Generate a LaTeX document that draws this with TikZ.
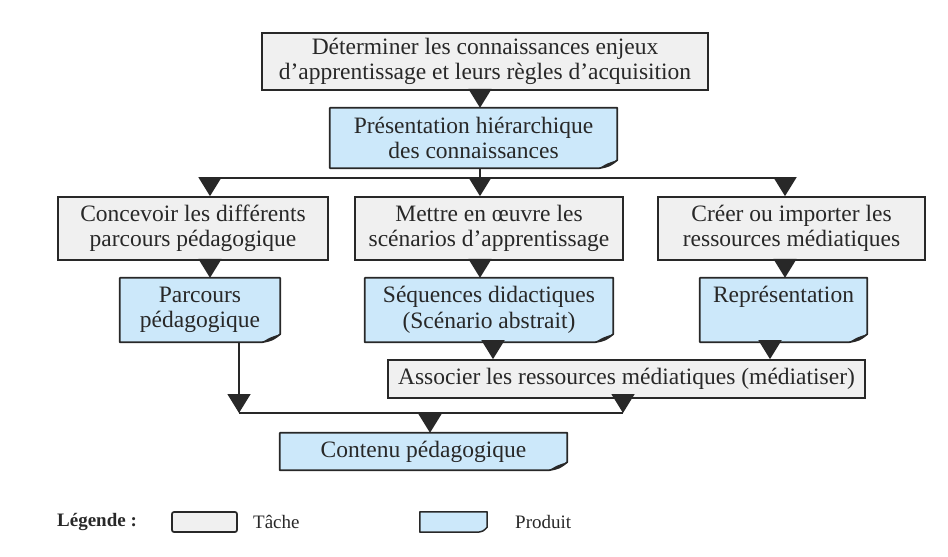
\documentclass[tikz,border=0pt]{standalone}
\usepackage{fontspec}
\setmainfont{Liberation Serif}
\usetikzlibrary{arrows.meta,backgrounds}
\definecolor{taskfill}{RGB}{240,240,240}
\definecolor{prodfill}{RGB}{204,232,250}
\definecolor{ink}{RGB}{40,40,40}
\tikzset{
  txt/.style={font=\fontsize{23.5}{25.5}\selectfont, text=ink, align=center, inner sep=0pt},
  task/.style={txt, draw=ink, fill=taskfill, line width=1.7pt},
  prod/.style={txt},
  legtxt/.style={font=\fontsize{19}{22}\selectfont, text=ink, anchor=west, inner sep=0pt},
  conn/.style={line width=1.7pt, draw=ink},
  arr/.style={conn, -{Triangle[width=23pt,length=19pt]}},
}
\newcommand\prodshape[1]{%
  \filldraw[fill=prodfill, draw=ink, line width=1.7pt, line join=round]
    (#1.north west) -- (#1.north east) -- ([yshift=8pt]#1.south east)
    .. controls ([xshift=-8pt,yshift=2pt]#1.south east) .. ([xshift=-18pt]#1.south east)
    -- (#1.south west) -- cycle;
  \fill[ink] ([yshift=8pt]#1.south east)
    .. controls ([xshift=-8pt,yshift=2pt]#1.south east) .. ([xshift=-18pt]#1.south east)
    .. controls ([xshift=-10pt,yshift=5pt]#1.south east) .. cycle;
}
\begin{document}
\begin{tikzpicture}[x=1pt,y=-1pt]
\useasboundingbox (0,0) rectangle (948,557);
% tasks and products
\node[task, minimum width=446pt, minimum height=57pt] (t1) at (485,61.5)
  {Déterminer les connaissances enjeux\\d’apprentissage et leurs règles d’acquisition};
\node[prod, minimum width=287pt, minimum height=60pt] (p1) at (473.5,138)
  {Présentation hiérarchique\\des connaissances};
\node[task, minimum width=270pt, minimum height=63pt] (t2a) at (193,228.5)
  {Concevoir les différents\\parcours pédagogique};
\node[task, minimum width=268pt, minimum height=63pt] (t2b) at (489,228.5)
  {Mettre en œuvre les\\scénarios d’apprentissage};
\node[task, minimum width=267pt, minimum height=63pt] (t2c) at (791.5,228.5)
  {Créer ou importer les\\ressources médiatiques};
\node[prod, minimum width=160pt, minimum height=64pt] (p2a) at (200,310)
  {Parcours\\pédagogique};
\node[prod, minimum width=248pt, minimum height=64pt] (p2b) at (489,310)
  {Séquences didactiques\\(Scénario abstrait)};
\node[prod, minimum width=167pt, minimum height=64pt] (p2c) at (783.5,310)
  {Représentation\\\phantom{p}};
\node[task, minimum width=477pt, minimum height=38pt] (t3) at (626.5,379)
  {Associer les ressources médiatiques (médiatiser)};
\node[prod, minimum width=287pt, minimum height=37pt] (p3) at (423.5,451.5)
  {Contenu pédagogique};
% legend
\node[legtxt, font=\fontsize{19}{22}\selectfont\bfseries] (lg) at (57,522) {Légende :};
\node[task, minimum width=65pt, minimum height=20pt, rounded corners=2pt] (lt) at (204.5,522) {};
\node[legtxt] (ltt) at (253,522) {Tâche};
\node[prod, minimum width=67pt, minimum height=20pt] (lp) at (453.5,522) {};
\node[legtxt] (lpt) at (515,522) {Produit};
\begin{pgfonlayer}{background}
  \prodshape{p1}\prodshape{p2a}\prodshape{p2b}\prodshape{p2c}\prodshape{p3}
  \filldraw[fill=prodfill, draw=ink, line width=1.5pt, line join=round]
    (lp.north west) -- (lp.north east) -- ([yshift=5pt]lp.south east)
    .. controls ([xshift=-4pt,yshift=1pt]lp.south east) .. ([xshift=-9pt]lp.south east)
    -- (lp.south west) -- cycle;
\end{pgfonlayer}
% column coordinates
\coordinate (cL) at (210,0);
\coordinate (cM) at (480,0);
\coordinate (cR) at (785,0);
\coordinate (cS) at (493,0);
\coordinate (cT) at (770,0);
\coordinate (cP) at (239,0);
\coordinate (cA) at (623,0);
\coordinate (cC) at (430,0);
\coordinate (bus1) at (0,178);
\coordinate (bus2) at (0,413);
% connectors
\draw[arr] (t1.south -| cM) -- (p1.north -| cM);
\draw[conn] (p1.south -| cM) -- (bus1 -| cM);
\draw[conn] (bus1 -| cL) -- (bus1 -| cR);
\draw[arr] (bus1 -| cL) -- (t2a.north -| cL);
\draw[arr] (bus1 -| cM) -- (t2b.north -| cM);
\draw[arr] (bus1 -| cR) -- (t2c.north -| cR);
\draw[arr] (t2a.south -| cL) -- (p2a.north -| cL);
\draw[arr] (t2b.south -| cM) -- (p2b.north -| cM);
\draw[arr] (t2c.south -| cR) -- (p2c.north -| cR);
\draw[arr] (p2b.south -| cS) -- (t3.north -| cS);
\draw[arr] (p2c.south -| cT) -- (t3.north -| cT);
\draw[arr] (p2a.south -| cP) -- (bus2 -| cP);
\draw[arr] (t3.south -| cA) -- (bus2 -| cA);
\draw[conn] (bus2 -| cP) -- (bus2 -| cA);
\draw[arr] (bus2 -| cC) -- (p3.north -| cC);
\end{tikzpicture}
\end{document}
